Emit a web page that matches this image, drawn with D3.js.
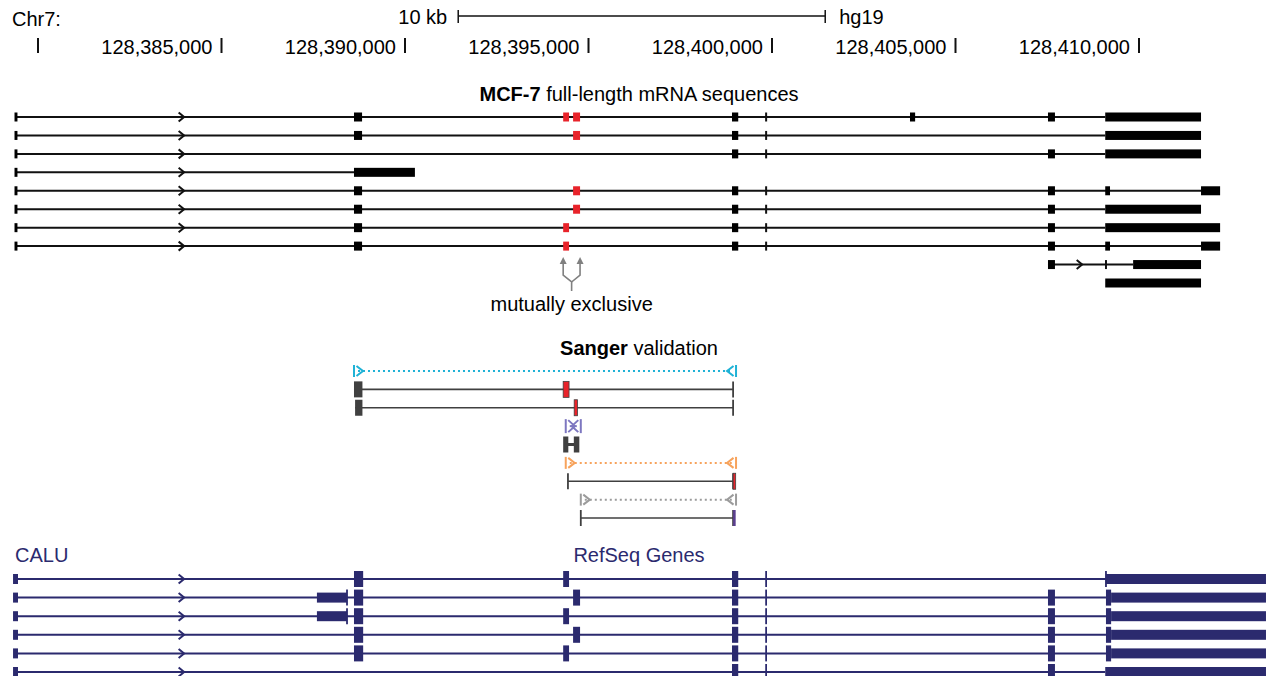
<!DOCTYPE html>
<html>
<head>
<meta charset="utf-8">
<script src="https://cdn.jsdelivr.net/npm/d3@7"></script>
<style>
  body { margin: 0; background: #fff; }
  svg { font-family: "Liberation Sans", Arial, Helvetica, sans-serif; }
</style>
</head>
<body>
<div id="chart"></div>
<script>
// genome coordinates (hg19, chr7)
const chromName = "Chr7:"
const assembly = "hg19"
const axisTicks = [128380000, 128385000, 128390000, 128395000, 128400000, 128405000, 128410000]
const axisLabels = ["", "128,385,000", "128,390,000", "128,395,000", "128,400,000", "128,405,000", "128,410,000"]
const scaleBar = [128391450, 128401450]
const scaleBarLabel = "10 kb"

// MCF-7 full-length mRNAs
const mcf7Lines = [
  [128379400, 128409080], [128379400, 128409080], [128379400, 128409080], [128379400, 128388610],
  [128379400, 128411690], [128379400, 128409080], [128379400, 128409080], [128379400, 128411690],
  [128407520, 128409840], null
]
const mcf7Exons = [
  [[128379360, 128379440], [128388610, 128388830], [128398910, 128399080], [128403760, 128403900], [128407520, 128407710], [128409080, 128411690]],
  [[128379360, 128379440], [128388610, 128388830], [128398910, 128399080], [128409080, 128411690]],
  [[128379360, 128379440], [128398910, 128399080], [128407520, 128407710], [128409080, 128411690]],
  [[128379360, 128379440], [128388610, 128390270]],
  [[128379360, 128379440], [128388610, 128388830], [128398910, 128399080], [128407520, 128407710], [128409080, 128409210], [128411690, 128412210]],
  [[128379360, 128379440], [128388610, 128388830], [128398910, 128399080], [128407520, 128407710], [128409080, 128411690]],
  [[128379360, 128379440], [128388610, 128388830], [128398910, 128399080], [128407520, 128407710], [128409080, 128412210]],
  [[128379360, 128379440], [128388610, 128388830], [128398910, 128399080], [128407520, 128407710], [128409080, 128409210], [128411690, 128412210]],
  [[128407520, 128407710], [128409840, 128411690]],
  [[128409080, 128411690]]
]
// the two mutually exclusive exons
const mcf7AltExons = [
  [[128394310, 128394470], [128394580, 128394770]],
  [[128394580, 128394770]],
  [], [],
  [[128394580, 128394770]],
  [[128394580, 128394770]],
  [[128394310, 128394470]],
  [[128394310, 128394470]],
  [], []
]
const mcf7Marks = [[128399840], [128399840], [128399840], [], [128399840], [128399840], [128399840], [128399840], [128409100], []]
const mcf7Arrows = [[128383900], [128383900], [128383900], [128383900], [128383900], [128383900], [128383900], [128383900], [128408370], []]
const mutexPoints = [128394310, 128394770]

// Sanger validation: primer pairs and sequenced clones
const primerPairs = [[128388610, 128399020], [128394380, 128394790], [128394380, 128399020], [128394790, 128399020]]
const primerRows = [0, 3, 5, 7]
const cloneRows = [1, 2, 4, 6, 8]
const cloneLines = [[128388610, 128398940], [128388640, 128398940], [128394440, 128394610], [128394440, 128398940], [128394790, 128398940]]
const cloneExons = [[[128388610, 128388840]], [[128388640, 128388840]], [[128394310, 128394450], [128394600, 128394750]], [], []]
const cloneAltExons = [[[128394310, 128394470]], [[128394610, 128394700]], [], [[128398940, 128399010]], []]
const cloneEndExons = [[], [], [], [], [[128398940, 128399010]]]
const cloneMarks = [[128398940], [128398940], [], [128394440, 128398940], [128394790, 128398940]]

// RefSeq CALU
const geneName = "CALU"
const refLines = [
  [128379380, 128409100], [128379380, 128409100], [128379380, 128409100],
  [128379380, 128409100], [128379380, 128409100], [128379380, 128409080]
]
const refUtr = [
  [[128379320, 128379455], [128409100, 128413460]],
  [[128379320, 128379455], [128387600, 128388420], [128409240, 128413460]],
  [[128379320, 128379455], [128387600, 128388420], [128409240, 128413460]],
  [[128379320, 128379455], [128409240, 128413460]],
  [[128379320, 128379455], [128409240, 128413460]],
  [[128379320, 128379455], [128409080, 128413460]]
]
const refCds = [
  [[128388610, 128388860], [128394310, 128394470], [128398910, 128399080]],
  [[128388610, 128388860], [128394580, 128394770], [128398910, 128399080], [128407520, 128407710], [128409100, 128409240]],
  [[128388610, 128388860], [128394310, 128394470], [128398910, 128399080], [128407520, 128407710], [128409100, 128409240]],
  [[128388610, 128388860], [128394580, 128394770], [128398910, 128399080], [128407520, 128407710], [128409100, 128409240]],
  [[128388610, 128388860], [128394310, 128394470], [128398910, 128399080], [128407520, 128407710], [128409100, 128409240]],
  [[128398910, 128399080], [128407520, 128407710]]
]
const refMarks = [[128399840, 128409100], [128388420, 128399840], [128388420, 128399840], [128399840], [128399840], [128399840]]
const refArrows = [[128383900], [128383900], [128383900], [128383900], [128383900], [128383900]]


const width = 1276
const height = 676

const svg = d3.select("#chart")
  .append("svg")
    .attr("width", width)
    .attr("height", height)

const x = d3.scaleLinear()
  .domain([128380000, 128410000])
  .range([38, 1139])

const yMcf7 = d3.scaleLinear().domain([0, 9]).range([117, 283])
const ySanger = d3.scaleLinear().domain([0, 8]).range([371, 518])
const yRef = d3.scaleLinear().domain([0, 5]).range([579, 672])

const red = "#e8232a"
const navy = "#2b2a6e"
const dark = "#404040"
const primerColors = ["#1fb2d6", "#7d77c0", "#f7a35c", "#9b9b9b"]

function blocks(g, data, y, h, color, outline) {
  const r = g.selectAll(null).data(data).join("rect")
    .attr("x", d => x(d[0]))
    .attr("width", d => Math.max(1.5, x(d[1]) - x(d[0])))
    .attr("y", y - h / 2)
    .attr("height", h)
    .attr("fill", color)
  if (outline) r.attr("stroke", outline).attr("stroke-width", 0.8)
}

function ticks(g, data, y, h, color, w) {
  g.selectAll(null).data(data).join("line")
    .attr("x1", d => x(d)).attr("x2", d => x(d))
    .attr("y1", y - h / 2).attr("y2", y + h / 2)
    .attr("stroke", color).attr("stroke-width", w)
}

function chevrons(g, data, y, color) {
  g.selectAll(null).data(data).join("path")
    .attr("d", d => `M${x(d) - 2.5},${y - 4.5}L${x(d) + 3},${y}L${x(d) - 2.5},${y + 4.5}`)
    .attr("fill", "none").attr("stroke", color).attr("stroke-width", 2)
}

function intron(g, d, y, color, w) {
  if (!d) return
  g.append("line")
    .attr("x1", x(d[0])).attr("x2", x(d[1]))
    .attr("y1", y).attr("y2", y)
    .attr("stroke", color).attr("stroke-width", w)
}

// ---- header: chromosome, scale bar, positions
svg.append("text").attr("x", 12).attr("y", 26).attr("font-size", 20).text(chromName)

const sb = svg.append("g").attr("stroke", "#111").attr("stroke-width", 1.5)
sb.append("line").attr("x1", x(scaleBar[0])).attr("x2", x(scaleBar[1])).attr("y1", 16).attr("y2", 16)
sb.selectAll(null).data(scaleBar).join("line")
  .attr("x1", d => x(d)).attr("x2", d => x(d)).attr("y1", 10).attr("y2", 23)
svg.append("text").attr("x", x(scaleBar[0]) - 11).attr("y", 24).attr("text-anchor", "end")
  .attr("font-size", 20).text(scaleBarLabel)
svg.append("text").attr("x", x(scaleBar[1]) + 14).attr("y", 24)
  .attr("font-size", 20).text(assembly)

const axis = svg.append("g")
axis.selectAll("line").data(axisTicks).join("line")
  .attr("x1", d => x(d)).attr("x2", d => x(d))
  .attr("y1", 38).attr("y2", 53)
  .attr("stroke", "#111").attr("stroke-width", 2)
axis.selectAll("text").data(axisTicks).join("text")
  .attr("x", d => x(d) - 9).attr("y", 54)
  .attr("text-anchor", "end").attr("font-size", 20)
  .text((d, i) => axisLabels[i])

// ---- MCF-7 track
const t1 = svg.append("text").attr("x", 639).attr("y", 101).attr("text-anchor", "middle").attr("font-size", 20)
t1.append("tspan").attr("font-weight", "bold").text("MCF-7")
t1.append("tspan").text(" full-length mRNA sequences")

mcf7Exons.forEach((ex, i) => {
  const y = yMcf7(i)
  const g = svg.append("g")
  intron(g, mcf7Lines[i], y, "#111", 2)
  chevrons(g, mcf7Arrows[i], y, "#111")
  ticks(g, mcf7Marks[i], y, 9, "#111", 2)
  blocks(g, ex, y, 9, "#000")
  blocks(g, mcf7AltExons[i], y, 9, red)
})

// mutually exclusive arrows (Y-shaped fork)
const mx = (x(mutexPoints[0]) + x(mutexPoints[1])) / 2
const ma = svg.append("g").attr("stroke", "#808080").attr("fill", "none").attr("stroke-width", 1.6)
ma.append("path").attr("d", `M${mx},291V282L${x(mutexPoints[0])},275V263`)
ma.append("path").attr("d", `M${mx},282L${x(mutexPoints[1])},275V263`)
svg.append("g").attr("fill", "#808080").selectAll("path").data(mutexPoints).join("path")
  .attr("d", d => `M${x(d)},257L${x(d) + 3.5},264L${x(d) - 3.5},264Z`)
svg.append("text").attr("x", mx).attr("y", 311).attr("text-anchor", "middle")
  .attr("font-size", 20).text("mutually exclusive")

// ---- Sanger validation
const t2 = svg.append("text").attr("x", 639).attr("y", 355).attr("text-anchor", "middle").attr("font-size", 20)
t2.append("tspan").attr("font-weight", "bold").text("Sanger")
t2.append("tspan").text(" validation")

primerPairs.forEach((p, i) => {
  const y = ySanger(primerRows[i])
  const c = primerColors[i]
  const small = (p[1] - p[0]) < 2000
  const hh = small ? 7 : 6
  const g = svg.append("g").attr("stroke", c).attr("fill", "none").attr("stroke-width", 2)
  const x0 = x(p[0]), x1 = x(p[1])
  g.append("line").attr("x1", x0 + 4).attr("x2", x1 - 4).attr("y1", y).attr("y2", y)
    .attr("stroke-dasharray", small ? null : "2,3")
  g.append("line").attr("x1", x0).attr("x2", x0).attr("y1", y - hh).attr("y2", y + hh)
  g.append("line").attr("x1", x1).attr("x2", x1).attr("y1", y - hh).attr("y2", y + hh)
  g.append("path").attr("d", `M${x0 + 2.5},${y - hh + 1}L${x0 + 9},${y}L${x0 + 2.5},${y + hh - 1}`)
  g.append("path").attr("d", `M${x1 - 2.5},${y - hh + 1}L${x1 - 9},${y}L${x1 - 2.5},${y + hh - 1}`)
})

cloneRows.forEach((r, i) => {
  const y = ySanger(r)
  const g = svg.append("g")
  intron(g, cloneLines[i], y, dark, i == 2 ? 3 : 1.6)
  ticks(g, cloneMarks[i], y, 16, dark, 1.8)
  blocks(g, cloneExons[i], y, 16, dark)
  blocks(g, cloneAltExons[i], y, 16, red, dark)
  blocks(g, cloneEndExons[i], y, 16, "#5b3f8f")
})

// ---- RefSeq genes
svg.append("text").attr("x", 15).attr("y", 562).attr("font-size", 20).attr("fill", navy).text(geneName)
svg.append("text").attr("x", 639).attr("y", 562).attr("text-anchor", "middle")
  .attr("font-size", 20).attr("fill", navy).text("RefSeq Genes")

refCds.forEach((ex, i) => {
  const y = yRef(i)
  const g = svg.append("g")
  intron(g, refLines[i], y, navy, 2)
  chevrons(g, refArrows[i], y, navy)
  ticks(g, refMarks[i], y, 16, navy, 1.8)
  blocks(g, refUtr[i], y, 10, navy)
  blocks(g, ex, y, 16, navy)
})
</script>
</body>
</html>
